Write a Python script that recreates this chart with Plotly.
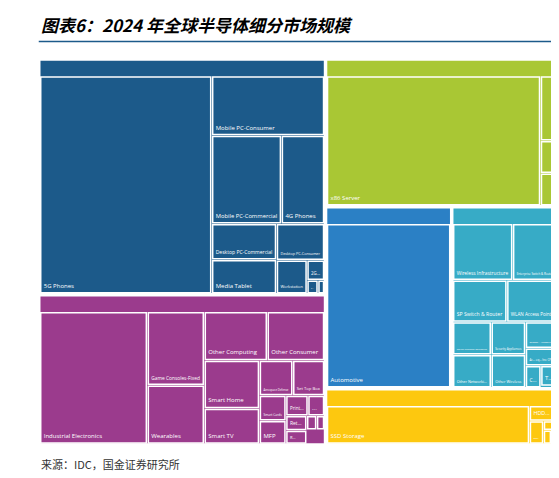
import plotly.graph_objects as go

sectors = ["Primary Client", "IoT", "Datacenter", "Automotive", "Communication", "Storage"]
sector_values = [212, 135, 108, 72, 61, 41]
sector_colors = ["#1c5a8a", "#9b3b8d", "#a9c734", "#2b80c5", "#37abc6", "#fdc80f"]

primary_labels = ["5G Phones", "Mobile PC-Consumer", "Mobile PC-Commercial", "4G Phones", "Desktop PC-Commercial",
                  "Media Tablet", "Desktop PC-Consumer", "Workstation", "2G...", "T...", ""]
primary_values = [128, 23, 21, 13, 8, 7.5, 6, 3.5, 1.2, 0.5, 0.3]

iot_labels = ["Industrial Electronics", "Game Consoles-Fixed", "Wearables", "Other Computing", "Other Consumer",
              "Smart Home", "Smart TV", "Aerospace Defense", "Set Top Box", "Smart Cards", "MFP", "Print...",
              "...", "R...", "Ret...", "", " "]
iot_values = [51, 15, 12, 11, 10, 9.5, 7, 4.2, 4, 2.4, 2.2, 1.6, 1.2, 1.0, 1.1, 0.5, 0.4]

dc_labels = ["x86 Server", "", " ", "  "]
dc_values = [100, 4, 2, 2]

auto_labels = ["Automotive"]
auto_values = [72]

comm_labels = ["Wireless Infrastructure", "Enterprise Switch & Router", "SP Switch & Router", "WLAN Access Points",
               "Optical Transport Equipment", "Other Networki...", "Security Appliances", "Other Wireless",
               "Broadb... Access CPE", "Ac... eq... (no CPE)", "C...", "T..."]
comm_values = [12, 9, 8, 7.5, 4.5, 4.5, 4, 4, 3, 2, 1.2, 1.2]

storage_labels = ["SSD Storage", "HDD...", "ODD...", "...", "", " "]
storage_values = [36, 2, 1.5, 0.6, 0.5, 0.4]

children = [primary_labels, iot_labels, dc_labels, auto_labels, comm_labels, storage_labels]
child_values = [primary_values, iot_values, dc_values, auto_values, comm_values, storage_values]

ids, parents, values, colors, texts = [], [], [], [], []
for s, v, c in zip(sectors, sector_values, sector_colors):
    ids.append(s); parents.append(""); values.append(v); colors.append(c)
    texts.append(f"<b>{s} ${v}B</b>")
for s, labs, vals, c in zip(sectors, children, child_values, sector_colors):
    for i, (l, v) in enumerate(zip(labs, vals)):
        ids.append(f"{s}/{i}"); parents.append(s); values.append(v); colors.append(c)
        texts.append(l)

fig = go.Figure(go.Treemap(
    ids=ids, parents=parents, values=values, labels=ids,
    customdata=texts, texttemplate="%{customdata}",
    branchvalues="total", sort=True,
    marker=dict(colors=colors, line=dict(color="white", width=1.5), pad=dict(t=17, l=1, r=1, b=1)),
    tiling=dict(pad=2, squarifyratio=1),
    textposition="bottom left",
    textfont=dict(family="Open Sans", size=6, color="white"),
    insidetextfont=dict(family="Open Sans", size=6, color="white"),
    outsidetextfont=dict(family="Open Sans", size=10, color="white"),
    pathbar=dict(visible=False),
    domain=dict(x=[0.055, 0.985], y=[0.086, 0.927]),
    hoverinfo="skip",
))
fig.update_layout(
    width=559, height=478, margin=dict(l=0, r=0, t=0, b=0),
    paper_bgcolor="white",
    shapes=[dict(type="line", xref="paper", yref="paper", x0=0.055, x1=0.985, y0=0.93, y1=0.93,
                 line=dict(color="#1c5a8a", width=1.5))],
    annotations=[
        dict(text="<b><i>图表6：2024 年全球半导体细分市场规模</i></b>", x=0.055, y=0.995, xref="paper", yref="paper",
             xanchor="left", yanchor="top", showarrow=False,
             font=dict(family="Noto Sans CJK SC", size=17, color="black")),
        dict(text="来源：IDC，国金证券研究所", x=0.055, y=0.045, xref="paper", yref="paper",
             xanchor="left", yanchor="middle", showarrow=False,
             font=dict(family="Noto Sans CJK SC", size=11, color="#333333")),
    ],
)
fig.write_html("out.html")
